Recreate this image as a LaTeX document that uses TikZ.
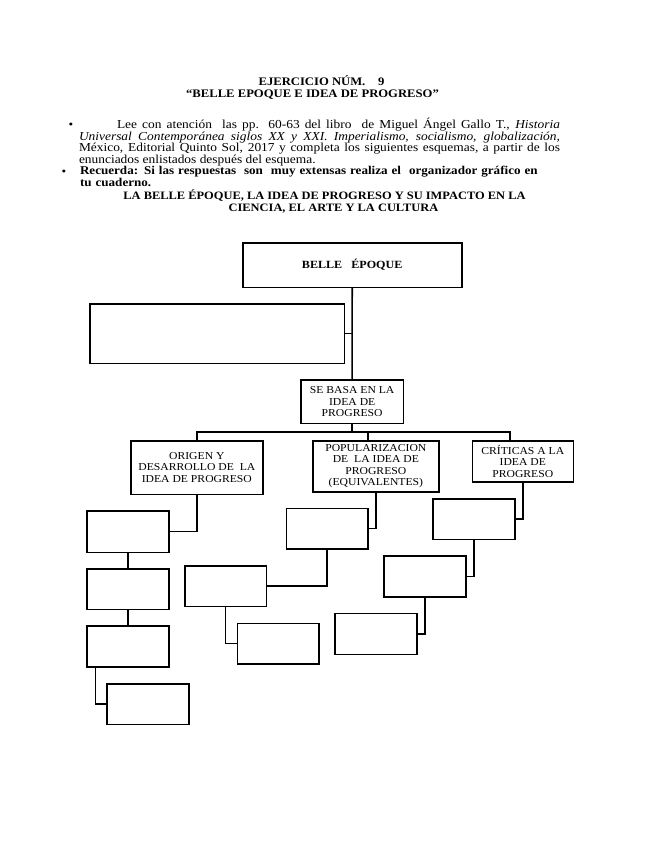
\documentclass[tikz,border=0pt]{standalone}
\usepackage{fontspec}
\setmainfont{Liberation Serif}[FakeStretch=1.1]
\usetikzlibrary{calc}
\begin{document}
\begin{tikzpicture}[x=1pt,y=-1pt,
  box/.style={draw, line width=1.6pt, inner sep=0pt, outer sep=0pt, align=center, anchor=north west},
  boxtxt/.style={font=\fontsize{10.6}{11.6}\selectfont},
  conn/.style={line width=1.6pt},
  txt/.style={inner sep=0pt, outer sep=0pt}]
\useasboundingbox (0,0) rectangle (655,848);
\fill[white] (0,0) rectangle (655,848);

% header
\node[txt, font=\bfseries\fontsize{11.5}{12}\selectfont] (h1) at (321.5,81) {EJERCICIO NÚM.\ \ \ \ 9};
\node[txt, font=\bfseries\fontsize{11.5}{12}\selectfont] (h2) at (312.5,94.5) {“BELLE EPOQUE E IDEA DE PROGRESO”};

% paragraph
\node[txt] (b1) at (71,126) {\fontsize{12}{12}\selectfont •};
\node[txt, anchor=north west, text width=481pt, align=justify, font=\fontsize{12.2}{11.6}\selectfont] (para) at (79,118)
 {\hspace*{38pt}Lee con atención\ \ las pp. 60-63 del libro\ \ de Miguel Ángel Gallo T., \textit{Historia}\linebreak
  \textit{Universal Contemporánea siglos XX y XXI. Imperialismo, socialismo, globalización,}\linebreak
  México, Editorial Quinto Sol, 2017 y completa los siguientes esquemas,\ a partir de los\linebreak
  enunciados enlistados después del esquema.};

\node[txt] (b2) at (64,173) {\fontsize{12}{12}\selectfont •};
\node[txt, anchor=north west, text width=490pt, align=left, font=\bfseries\fontsize{11.9}{11.7}\selectfont] (rec) at (80,166.5)
 {Recuerda: Si las respuestas\ \ son\ \ muy extensas realiza el\ \ organizador gráfico en\\tu cuaderno.};

\node[txt, font=\bfseries\fontsize{11.3}{13}\selectfont] (t1) at (324.5,196) {LA BELLE ÉPOQUE, LA IDEA DE PROGRESO Y SU IMPACTO EN LA};
\node[txt, font=\bfseries\fontsize{11.3}{13}\selectfont] (t2) at (333.5,209) {CIENCIA, EL ARTE Y LA CULTURA};

% boxes
\node[box, minimum width=219pt, minimum height=44.6pt, font=\bfseries\fontsize{11}{11}\selectfont] (belle) at (242.7,242.7) {BELLE\ \ \ ÉPOQUE};
\node[box, minimum width=254.3pt, minimum height=59.3pt] (big) at (90,304) {};
\node[box, boxtxt, minimum width=102.3pt, minimum height=43.3pt] (sebasa) at (301,380) {SE BASA EN LA\\IDEA DE\\PROGRESO};
\node[box, boxtxt, minimum width=131.7pt, minimum height=53.6pt] (origen) at (131,440.7) {ORIGEN Y\\DESARROLLO DE\ \ LA\\IDEA DE PROGRESO};
\node[box, boxtxt, minimum width=126.3pt, minimum height=51pt] (pop) at (312.7,440.7) {POPULARIZACION\\DE\ \ LA IDEA DE\\PROGRESO\\(EQUIVALENTES)};
\node[box, boxtxt, minimum width=101pt, minimum height=41pt, text depth=0pt] (crit) at (472.3,440.7) {CRÍTICAS A LA\\IDEA DE\\PROGRESO};

\node[box, minimum width=82pt, minimum height=41.3pt] (L1) at (86.7,511) {};
\node[box, minimum width=82pt, minimum height=40.6pt] (L2) at (86.7,568.7) {};
\node[box, minimum width=82pt, minimum height=40.7pt] (L3) at (86.7,626) {};
\node[box, minimum width=81.7pt, minimum height=40.6pt] (L4) at (107,683.7) {};

\node[box, minimum width=81.4pt, minimum height=40.7pt] (M1) at (286.3,508.3) {};
\node[box, minimum width=81.3pt, minimum height=40.6pt] (M2) at (185,565.7) {};
\node[box, minimum width=81.7pt, minimum height=40.7pt] (M3) at (237.3,623.3) {};

\node[box, minimum width=81.7pt, minimum height=40.3pt] (R1) at (433,499) {};
\node[box, minimum width=81.7pt, minimum height=40.7pt] (R2) at (384,556) {};
\node[box, minimum width=82pt, minimum height=41pt] (R3) at (335,613.3) {};

% connectors
\draw[conn] (belle.south) -- (sebasa.north);
\draw[conn] (big.east) -- (big.east -| belle.south);
\coordinate (bus) at (352.7,431.7);
\draw[conn] (sebasa.south) -- (sebasa.south |- bus);
\draw[conn] (origen.north) -- (origen.north |- bus) -- ([xshift=-13pt]crit.north |- bus) -- ([xshift=-13pt]crit.north);
\draw[conn] ([xshift=-8pt]pop.north) -- ([xshift=-8pt]pop.north |- bus);

\draw[conn] (origen.south) |- (L1.east);
\draw[conn] (L1.south) -- (L2.north);
\draw[conn] (L2.south) -- (L3.north);
\draw[conn] ([xshift=8.6pt]L3.south west) |- (L4.west);

\draw[conn] (pop.south) |- (M1.east);
\draw[conn] (M1.south) |- (M2.east);
\draw[conn] (M2.south) |- (M3.west);

\draw[conn] (crit.south) |- (R1.east);
\draw[conn] (R1.south) |- (R2.east);
\draw[conn] (R2.south) |- (R3.east);
\end{tikzpicture}
\end{document}
